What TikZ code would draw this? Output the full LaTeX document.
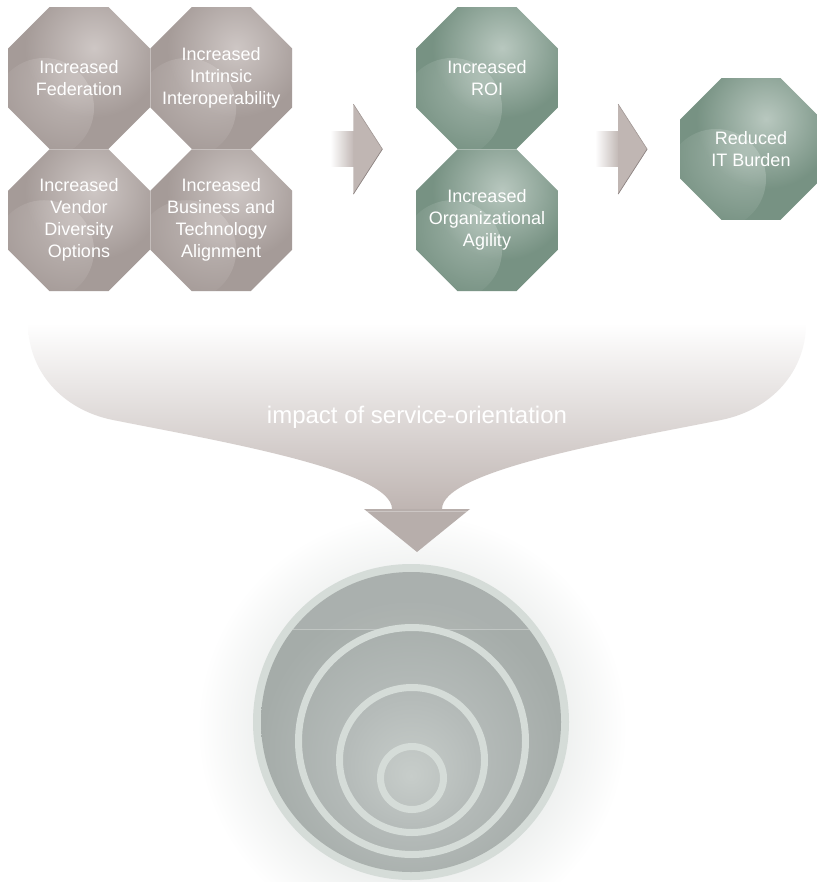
\documentclass[tikz,border=0pt]{standalone}
\usepackage{fontspec}
\setmainfont{Liberation Sans}
\usetikzlibrary{positioning, shapes.geometric, calc, fadings}

\definecolor{taupe}{HTML}{A59B98}
\definecolor{taupelight}{HTML}{D3CCCA}
\definecolor{sage}{HTML}{779283}
\definecolor{sagelight}{HTML}{C0CEC6}
\definecolor{arrowgrey}{HTML}{C0B6B3}
\definecolor{arrowedge}{HTML}{8C8280}
\definecolor{funnelgrey}{HTML}{BFB5B2}
\definecolor{ringc}{HTML}{D5DCD8}
\definecolor{haloc}{HTML}{EDEFEE}
\definecolor{discin}{HTML}{C7CDCA}
\definecolor{discmid}{HTML}{B5BBB9}
\definecolor{discout}{HTML}{A5ACA9}

% 円の背景と円盤のグラデーション
\pgfdeclareradialshading{halo}{\pgfpoint{0bp}{0bp}}{color(0bp)=(haloc); color(17bp)=(haloc); color(25bp)=(white); color(50bp)=(white)}
\pgfdeclareradialshading{disc}{\pgfpoint{0bp}{-9bp}}{color(0bp)=(discin); color(11bp)=(discmid); color(25bp)=(discout); color(50bp)=(discout)}
% 八角形のハイライト用（中心から外へ透明に）
\tikzfading[name=spot, inner color=transparent!0, outer color=transparent!100]

\tikzset{
  octa/.style={regular polygon, regular polygon sides=8, minimum size=153.5pt,
    inner sep=-28pt, align=center, text=white, font=\fontsize{18}{22}\selectfont},
  greyocta/.style={octa, fill=taupe, path picture={
    \fill[taupelight, path fading=spot, opacity=0.6] ($(path picture bounding box.center)+(-35pt,-30pt)$) circle[radius=50pt];
    \fill[taupelight, path fading=spot, opacity=0.9] ($(path picture bounding box.center)+(15pt,30pt)$) circle[radius=70pt];}},
  greenocta/.style={octa, fill=sage, path picture={
    \fill[sagelight, path fading=spot, opacity=0.6] ($(path picture bounding box.center)+(-35pt,-30pt)$) circle[radius=50pt];
    \fill[sagelight, path fading=spot, opacity=0.9] ($(path picture bounding box.center)+(15pt,30pt)$) circle[radius=70pt];}}
}

% 太い矢印（左端の中心が原点）
\newcommand{\blockarrow}[1]{%
  \begin{scope}[shift={#1}]
    \shade[left color=white, right color=arrowgrey] (0,-17.5) rectangle (24,17.5);
    \fill[arrowgrey] (23,-45) -- (52,0) -- (23,45) -- cycle;
    \draw[arrowedge!60!arrowgrey, line width=0.6pt] (23,-45) -- (52,0);
    \draw[arrowedge, line width=0.7pt] (52,0) -- (23,45);
  \end{scope}}

\begin{document}
\begin{tikzpicture}[
    x=1pt, y=-1pt,          % 画像と同じピクセル座標（下向き）
    font=\fontsize{18}{22}\selectfont
]
    \useasboundingbox (0,0) rectangle (816,882);
    \fill[white] (0,0) rectangle (816,882);

    % --- 0. 円の背景のぼかし ---
    \shade[shading=halo] (412,728) circle[radius=215pt];

    % --- 1. 八角形（灰色の4つ） ---
    \node[greyocta] (fed) at (79,78) {Increased\\Federation};
    \node[greyocta, right=0pt of fed] (interop) {Increased\\Intrinsic\\Interoperability};
    \node[greyocta, below=0pt of fed] (vendor) {Increased\\Vendor\\Diversity\\Options};
    \node[greyocta, right=0pt of vendor] (align) {Increased\\Business and\\Technology\\Alignment};

    % --- 2. 八角形（緑色） ---
    \node[greenocta] (roi) at (487,78) {Increased\\ROI};
    \node[greenocta, below=0pt of roi] (agility) {Increased\\Organizational\\Agility};
    \node[greenocta] (burden) at (751,149) {Reduced\\IT Burden};

    % --- 3. 横向きの矢印 ---
    \blockarrow{($(interop.east |- fed.south)+(38,0)$)}
    \blockarrow{($(roi.east |- roi.south)+(37,0)$)}

    % --- 4. じょうご型の矢印 ---
    \shade[top color=white, bottom color=funnelgrey]
        (28,323) .. controls (28,372) and (63,410) .. (113,420)
        .. controls (213,440) and (392,470) .. (392,509)
        -- (442,509)
        .. controls (442,470) and (621,440) .. (721,420)
        .. controls (771,410) and (806,372) .. (806,323) -- cycle;
    \fill[funnelgrey!96!black] (364,509) -- (470,509) -- (417,552) -- cycle;
    \draw[white, opacity=0.3, line width=0.8pt] (367,511) -- (467,511);
    \node[anchor=base, text=white, font=\fontsize{24}{28}\selectfont] (impact) at (417,423) {impact of service-orientation};

    % --- 5. 同心円 ---
    \fill[ringc] (411,722) circle[radius=158pt];
    \shade[shading=disc] (411,722) circle[radius=150pt];
    \fill[white, opacity=0.06] (293,629) arc[start angle=141.7, end angle=38.3, radius=150pt] -- cycle;
    \draw[white, opacity=0.3, line width=0.6pt] (293,629) -- (529,629);
    \draw[ringc, line width=7pt] (412,741) circle[radius=113.5pt];
    \draw[ringc, line width=7pt] (412,760) circle[radius=72.5pt];
    \draw[ringc, line width=7pt] (412,778) circle[radius=31.5pt];

\end{tikzpicture}
\end{document}
